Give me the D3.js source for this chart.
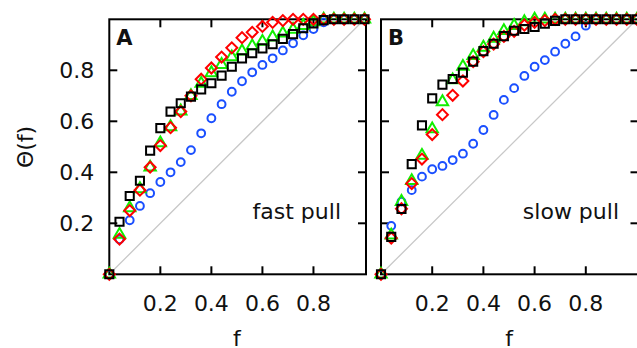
<!DOCTYPE html>
<html>
<head>
<meta charset="utf-8">
<script src="https://cdn.jsdelivr.net/npm/d3@7"></script>
<style>
  body { margin: 0; background: #fff; }
  text { font-family: "DejaVu Sans", sans-serif; fill: #111; }
</style>
</head>
<body>
<div id="chart"></div>
<script>
// f sampled every 0.04 from 0 to 1
const fVals = d3.range(26).map(i => +(i * 0.04).toFixed(2));
const tickVals = [0.2, 0.4, 0.6, 0.8];

// panel A, fast pull
const blueA  = [0, 0.137, 0.212, 0.268, 0.318, 0.362, 0.40, 0.44, 0.487, 0.553, 0.612, 0.667, 0.716, 0.757, 0.792, 0.821, 0.847, 0.878, 0.906, 0.937, 0.962, 0.988, 1, 1, 1, 1];
const greenA = [0, 0.156, 0.26, 0.335, 0.42, 0.515, 0.578, 0.64, 0.70, 0.748, 0.79, 0.822, 0.852, 0.875, 0.895, 0.913, 0.93, 0.945, 0.96, 0.975, 0.99, 1, 1, 1, 1, 1];
const redA   = [0, 0.138, 0.25, 0.33, 0.42, 0.505, 0.575, 0.638, 0.70, 0.765, 0.809, 0.852, 0.888, 0.928, 0.949, 0.972, 0.988, 0.995, 1, 1, 1, 1, 1, 1, 1, 1];
const blackA = [0, 0.206, 0.307, 0.367, 0.485, 0.573, 0.638, 0.671, 0.697, 0.725, 0.749, 0.779, 0.814, 0.847, 0.867, 0.886, 0.902, 0.923, 0.942, 0.965, 0.984, 0.997, 1, 1, 1, 1];

// panel B, slow pull
const blueB  = [0, 0.19, 0.285, 0.33, 0.383, 0.412, 0.425, 0.448, 0.473, 0.512, 0.566, 0.625, 0.684, 0.73, 0.778, 0.814, 0.84, 0.873, 0.904, 0.933, 0.975, 1, 1, 1, 1, 1];
const greenB = [0, 0.153, 0.285, 0.367, 0.466, 0.57, 0.676, 0.762, 0.815, 0.857, 0.89, 0.925, 0.955, 0.975, 0.99, 1, 1, 1, 1, 1, 1, 1, 1, 1, 1, 1];
const redB   = [0, 0.142, 0.257, 0.356, 0.452, 0.548, 0.626, 0.702, 0.758, 0.834, 0.873, 0.903, 0.933, 0.953, 0.977, 0.988, 0.995, 1, 1, 1, 1, 1, 1, 1, 1, 1];
const blackB = [0, 0.147, 0.256, 0.432, 0.584, 0.69, 0.744, 0.766, 0.791, 0.834, 0.875, 0.904, 0.934, 0.955, 0.962, 0.970, 0.983, 0.994, 1, 1, 1, 1, 1, 1, 1, 1];

const W = 637, H = 348;
const svg = d3.select("#chart").append("svg")
    .attr("width", W)
    .attr("height", H);

const markers = {
    circle:   { sym: d3.symbolCircle,   size: 48, rot: 0,  color: "#1a4fff" },
    triangle: { sym: d3.symbolTriangle, size: 56, rot: 0,  color: "#11ee00" },
    diamond:  { sym: d3.symbolSquare,   size: 60, rot: 45, color: "#ff0000" },
    square:   { sym: d3.symbolSquare,   size: 66, rot: 0,  color: "#000" }
};

function panel(opts) {
    let x = d3.scaleLinear().domain([0, 1]).range([opts.left, opts.right]),
        y = d3.scaleLinear().domain([0, 1]).range([274.3, 19.3]);

    let g = svg.append("g");

    // diagonal
    g.append("line")
        .attr("x1", x(0)).attr("y1", y(0))
        .attr("x2", x(1)).attr("y2", y(1))
        .attr("stroke", "#c8c8c8")
        .attr("stroke-width", 1.3);

    // frame
    g.append("rect")
        .attr("x", x(0)).attr("y", y(1))
        .attr("width", x(1) - x(0) + 1.5)
        .attr("height", y(0) - y(1))
        .attr("fill", "none")
        .attr("stroke", "#000")
        .attr("stroke-width", 2);

    // mirrored inward ticks
    let tl = 8;
    let ticks = g.append("g")
        .attr("stroke", "#000")
        .attr("stroke-width", 2);
    tickVals.forEach(function(t) {
        ticks.append("line").attr("x1", x(t)).attr("x2", x(t)).attr("y1", y(0)).attr("y2", y(0) - tl);
        ticks.append("line").attr("x1", x(t)).attr("x2", x(t)).attr("y1", y(1)).attr("y2", y(1) + tl);
        ticks.append("line").attr("y1", y(t)).attr("y2", y(t)).attr("x1", x(0)).attr("x2", x(0) + tl);
        ticks.append("line").attr("y1", y(t)).attr("y2", y(t)).attr("x1", x(1) + 1.5).attr("x2", x(1) + 1.5 - tl);
    });

    // tick labels
    g.selectAll(".xl").data(tickVals).enter().append("text")
        .attr("x", d => x(d))
        .attr("y", 311)
        .attr("text-anchor", "middle")
        .style("font-size", "22px")
        .text(d => d3.format(".1f")(d));

    if (opts.yLabels) {
        g.selectAll(".yl").data(tickVals).enter().append("text")
            .attr("x", x(0) - 15)
            .attr("y", d => y(d))
            .attr("dy", "0.36em")
            .attr("text-anchor", "end")
            .style("font-size", "22px")
            .text(d => d3.format(".1f")(d));
    }

    g.append("text")
        .attr("x", (x(0) + x(1)) / 2)
        .attr("y", 346)
        .attr("text-anchor", "middle")
        .style("font-size", "22px")
        .text("f");

    g.append("text")
        .attr("x", x(0) + 7)
        .attr("y", 45)
        .style("font-size", "21px")
        .style("font-weight", "bold")
        .text(opts.letter);

    g.append("text")
        .attr("x", opts.noteX)
        .attr("y", 219)
        .attr("text-anchor", "end")
        .style("font-size", "22px")
        .text(opts.note);

    // data series
    opts.series.forEach(function(s) {
        let m = markers[s.marker];
        let sym = d3.symbol().type(m.sym).size(m.size);
        g.append("g").selectAll("path")
            .data(s.values)
            .enter().append("path")
            .attr("d", sym)
            .attr("transform", (d, i) => "translate(" + x(fVals[i]) + "," + y(d) + ") rotate(" + m.rot + ")")
            .attr("fill", "none")
            .attr("stroke", m.color)
            .attr("stroke-width", 2);
    });
}

panel({
    left: 109.3, right: 364.5, letter: "A", yLabels: true,
    note: "fast pull", noteX: 341,
    series: [
        { marker: "circle", values: blueA },
        { marker: "triangle", values: greenA },
        { marker: "diamond", values: redA },
        { marker: "square", values: blackA }
    ]
});

panel({
    left: 381, right: 637, letter: "B", yLabels: false,
    note: "slow pull", noteX: 619,
    series: [
        { marker: "circle", values: blueB },
        { marker: "triangle", values: greenB },
        { marker: "diamond", values: redB },
        { marker: "square", values: blackB }
    ]
});

// y-axis title
svg.append("text")
    .attr("transform", "translate(33,147) rotate(-90)")
    .attr("text-anchor", "middle")
    .style("font-size", "22px")
    .text("Θ(f)");
</script>
</body>
</html>
